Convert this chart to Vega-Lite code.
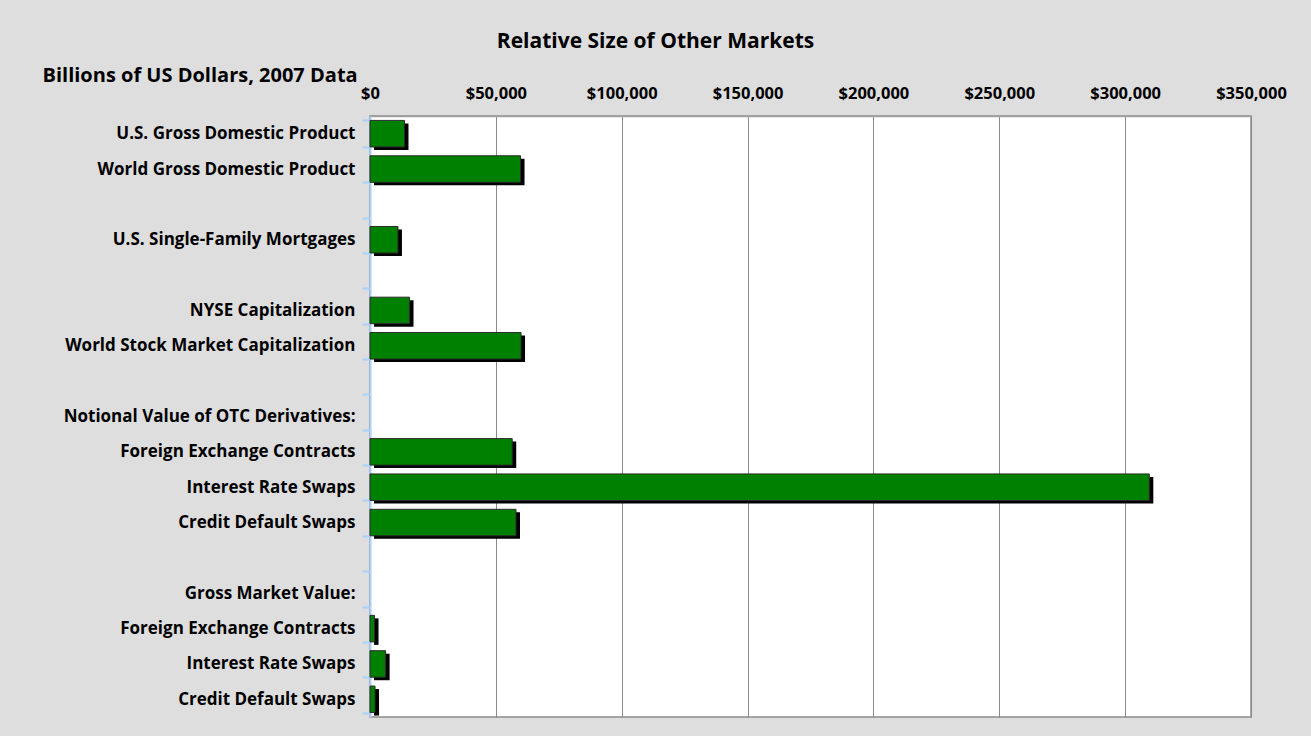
{
  "$schema": "https://vega.github.io/schema/vega-lite/v6.json",
  "width": 881,
  "height": 601,
  "autosize": {"type": "none"},
  "padding": {"left": 370, "top": 116, "right": 60, "bottom": 19},
  "background": "#dedede",
  "title": {
    "text": "Relative Size of Other Markets",
    "font": "Open Sans",
    "fontSize": 21,
    "fontWeight": "bold",
    "color": "#000000",
    "anchor": "middle",
    "frame": "group",
    "dx": -155,
    "offset": 13
  },
  "data": {
    "values": [
      {"item": "U.S. Gross Domestic Product", "value": 13700},
      {"item": "World Gross Domestic Product", "value": 59800},
      {"item": "\u200b", "value": null},
      {"item": "U.S. Single-Family Mortgages", "value": 11100},
      {"item": "\u200b\u200b", "value": null},
      {"item": "NYSE Capitalization", "value": 15700},
      {"item": "World Stock Market Capitalization", "value": 60000},
      {"item": "\u200b\u200b\u200b", "value": null},
      {"item": "Notional Value of OTC Derivatives:", "value": null},
      {"item": "Foreign Exchange Contracts", "value": 56500},
      {"item": "Interest Rate Swaps", "value": 309600},
      {"item": "Credit Default Swaps", "value": 58000},
      {"item": "\u200b\u200b\u200b\u200b", "value": null},
      {"item": "Gross Market Value:", "value": null},
      {"item": "Foreign Exchange Contracts\u200b", "value": 1800},
      {"item": "Interest Rate Swaps\u200b", "value": 6200},
      {"item": "Credit Default Swaps\u200b", "value": 2000}
    ]
  },
  "encoding": {
    "x": {
      "field": "value",
      "type": "quantitative",
      "scale": {"domain": [0, 350000], "nice": false},
      "axis": {
        "orient": "top",
        "title": null,
        "values": [0, 50000, 100000, 150000, 200000, 250000, 300000, 350000],
        "format": "$,.0f",
        "labelFont": "Open Sans",
        "labelFontSize": 16.5,
        "labelFontWeight": "bold",
        "labelColor": "#000000",
        "labelFlush": false,
        "labelPadding": 15,
        "ticks": false,
        "tickSize": 0,
        "domainColor": "#a0a0a0",
        "domainWidth": 1.5,
        "grid": true,
        "gridColor": "#8a8a8a",
        "gridWidth": 1,
        "gridOpacity": 1
      }
    },
    "y": {
      "field": "item",
      "type": "nominal",
      "sort": null,
      "scale": {
        "domain": [
          "U.S. Gross Domestic Product",
          "World Gross Domestic Product",
          "\u200b",
          "U.S. Single-Family Mortgages",
          "\u200b\u200b",
          "NYSE Capitalization",
          "World Stock Market Capitalization",
          "\u200b\u200b\u200b",
          "Notional Value of OTC Derivatives:",
          "Foreign Exchange Contracts",
          "Interest Rate Swaps",
          "Credit Default Swaps",
          "\u200b\u200b\u200b\u200b",
          "Gross Market Value:",
          "Foreign Exchange Contracts\u200b",
          "Interest Rate Swaps\u200b",
          "Credit Default Swaps\u200b"
        ],
        "paddingInner": 0.25,
        "paddingOuter": 0.125
      },
      "axis": {
        "title": "Billions of US Dollars, 2007 Data",
        "titleAngle": 0,
        "titleAlign": "left",
        "titleBaseline": "alphabetic",
        "titleX": -328,
        "titleY": -35,
        "titleFont": "Open Sans",
        "titleFontSize": 20,
        "titleFontWeight": "bold",
        "titleColor": "#000000",
        "labelFont": "Open Sans",
        "labelFontSize": 17,
        "labelFontWeight": "bold",
        "labelColor": "#000000",
        "labelPadding": 7,
        "labelLimit": 400,
        "tickBand": "extent",
        "tickSize": 8,
        "tickWidth": 2,
        "tickColor": "#a9d1fb",
        "domainColor": "#a9d1fb",
        "domainWidth": 2,
        "grid": false
      }
    }
  },
  "layer": [
    {
      "mark": {"type": "bar", "color": "#000000", "xOffset": 4, "x2Offset": 4, "yOffset": 3, "y2Offset": 3}
    },
    {
      "mark": {"type": "bar", "fill": "#008000", "stroke": "#2a2a2a", "strokeWidth": 1}
    }
  ],
  "config": {
    "view": {"fill": "#ffffff", "stroke": "#8c8c8c", "strokeWidth": 1.5}
  }
}
